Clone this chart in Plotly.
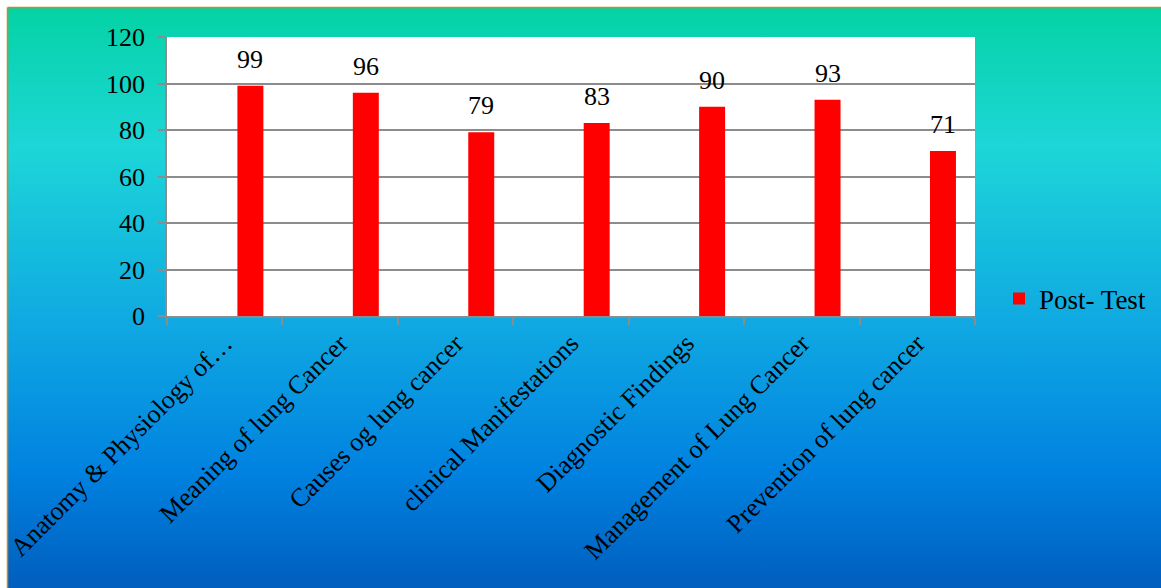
import base64
import plotly.graph_objects as go

# Knowledge areas and post-test scores
categories = [
    "Anatomy & Physiology of…",
    "Meaning of lung Cancer",
    "Causes og lung cancer",
    "clinical Manifestations",
    "Diagnostic Findings",
    "Management of Lung Cancer",
    "Prevention of lung cancer",
]
post_test = [99, 96, 79, 83, 90, 93, 71]
series_name = "Post- Test"
y_ticks = [0, 20, 40, 60, 80, 100, 120]

W, H = 1161, 588
L, R, T, B = 167, 186, 37, 272
pw, ph = W - L - R, H - T - B

FONT = "Liberation Serif"
GRID = "#8c8c8c"

# bars sit in the right half of each category slot
BAR_OFFSET = 0.11
BAR_WIDTH = 0.225


def px_to_paper_x(px):
    return (px - L) / pw


def px_to_paper_y(py):
    return (H - B - py) / ph


# vertical teal-to-blue backdrop as an svg gradient
svg = """<svg xmlns='http://www.w3.org/2000/svg' width='1153' height='580' viewBox='0 0 1153 580' preserveAspectRatio='none'>
<defs><linearGradient id='g' x1='0' y1='0' x2='0' y2='1'>
<stop offset='0' stop-color='#04d3a5'/>
<stop offset='0.24' stop-color='#1dd6d8'/>
<stop offset='0.55' stop-color='#0fa8e2'/>
<stop offset='0.8' stop-color='#0082e0'/>
<stop offset='1' stop-color='#005ebe'/>
</linearGradient></defs>
<rect x='0' y='0' width='1153' height='580' fill='url(#g)'/>
</svg>"""
bg_src = "data:image/svg+xml;base64," + base64.b64encode(svg.encode()).decode()

fig = go.Figure()
fig.add_trace(go.Bar(
    x=categories,
    y=post_test,
    name=series_name,
    offset=BAR_OFFSET,
    width=BAR_WIDTH,
    marker=dict(color="#ff0000", line=dict(width=0)),
    showlegend=True,
))

# value labels above each bar
for i, v in enumerate(post_test):
    fig.add_annotation(
        x=i + BAR_OFFSET + BAR_WIDTH / 2, y=v, text=str(v), showarrow=False,
        xref="x", yref="y",
        yanchor="bottom", yshift=10,
        font=dict(family=FONT, size=26, color="black"),
    )

fig.add_layout_image(dict(
    source=bg_src, xref="paper", yref="paper",
    x=px_to_paper_x(8), y=px_to_paper_y(8),
    sizex=(W - 8) / pw, sizey=(H - 8) / ph,
    xanchor="left", yanchor="top", sizing="stretch", layer="below",
))

# white plotting area over the backdrop
fig.add_shape(type="rect", xref="paper", yref="paper", x0=0, x1=1, y0=0, y1=1,
              fillcolor="white", line=dict(width=0), layer="below")

# thin amber frame on the top and left edges
frame = "#c8891e"
fig.add_shape(type="line", xref="paper", yref="paper",
              x0=px_to_paper_x(7.5), x1=px_to_paper_x(W), y0=px_to_paper_y(7.5), y1=px_to_paper_y(7.5),
              line=dict(color=frame, width=1.5), layer="above")
fig.add_shape(type="line", xref="paper", yref="paper",
              x0=px_to_paper_x(7.5), x1=px_to_paper_x(7.5), y0=px_to_paper_y(7.5), y1=px_to_paper_y(H),
              line=dict(color=frame, width=1.5), layer="above")

fig.update_layout(
    width=W, height=H,
    margin=dict(l=L, r=R, t=T, b=B, pad=0, autoexpand=False),
    paper_bgcolor="white",
    plot_bgcolor="rgba(0,0,0,0)",
    font=dict(family=FONT, size=26, color="black"),
    legend=dict(
        x=px_to_paper_x(999), y=px_to_paper_y(299),
        xanchor="left", yanchor="middle",
        bgcolor="rgba(0,0,0,0)",
        font=dict(family=FONT, size=27, color="black"),
    ),
)

fig.update_xaxes(
    type="category",
    automargin=False,
    range=[-0.5, len(categories) - 0.5],
    tickangle=-45,
    tickson="boundaries",
    ticks="outside", ticklen=7, tickcolor=GRID, tickwidth=1.5,
    showline=True, linecolor=GRID, linewidth=1.5,
    showgrid=False,
    tickfont=dict(family=FONT, size=26, color="black"),
)
fig.update_yaxes(
    automargin=False,
    range=[0, 120],
    tickvals=y_ticks,
    ticks="outside", ticklen=7, tickcolor=GRID, tickwidth=1.5,
    showline=True, linecolor=GRID, linewidth=1.5,
    showgrid=True, gridcolor=GRID, gridwidth=1.5,
    zeroline=False,
    ticklabelstandoff=8,
    tickfont=dict(family=FONT, size=26, color="black"),
)

fig.write_html("out.html")
